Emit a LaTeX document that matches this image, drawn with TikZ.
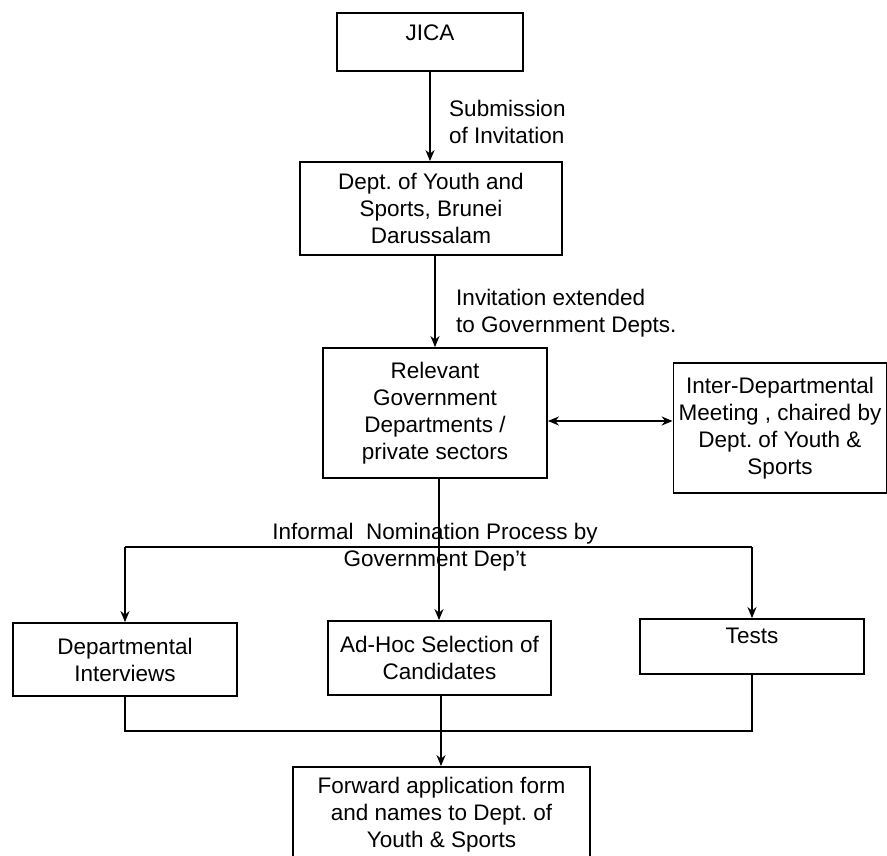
\documentclass[tikz,border=0pt]{standalone}
\usepackage{fontspec}
\setmainfont{Liberation Sans}
\frenchspacing
\usetikzlibrary{arrows.meta}

\begin{document}
\begin{tikzpicture}[x=1pt, y=-1pt, line width=1.8pt, >={Stealth[length=11pt, width=9pt]},
	every node/.append style={font=\fontsize{22.5}{27}\selectfont},
	box/.style={draw, align=center, inner sep=2pt},
	note/.style={align=left, anchor=west}]
\useasboundingbox (0,0) rectangle (887,856);
\node[box, minimum width=186pt, minimum height=58pt, text depth=18pt] (jica) at (430,42) {JICA};
\node[box, minimum width=262pt, minimum height=93pt] (dys) at (431,208.5) {Dept. of Youth and\\Sports, Brunei\\Darussalam};
\node[box, minimum width=224pt, minimum height=130pt] (rel) at (435,413) {Relevant\\Government\\Departments /\\private sectors};
\node[box, minimum width=213pt, minimum height=130pt, inner xsep=0pt] (inter) at (780,428) {Inter-Departmental\\Meeting , chaired by\\Dept. of Youth \&\\Sports};
\node[box, minimum width=224pt, minimum height=73pt] (dint) at (125,659.5) {Departmental\\Interviews};
\node[box, minimum width=223pt, minimum height=74pt] (adhoc) at (439.5,658) {Ad-Hoc Selection of\\Candidates};
\node[box, minimum width=224pt, minimum height=55pt, text depth=21pt] (tests) at (752,646.5) {Tests};
\node[box, minimum width=297pt, minimum height=96pt] (fwd) at (441.5,815) {Forward application form\\and names to Dept. of\\Youth \& Sports};
% labels on the arrows
\node[note] (sub) at (445,121.5) {Submission\\of Invitation};
\node[note] (ext) at (452,313.5) {Invitation extended\\to Government Depts.};
\coordinate (split) at (439,547);
\coordinate (merge) at (441,731);
\node[align=center] (nom) at (435,547) {Informal\ \ Nomination Process by\\Government Dep't};
% connectors
\draw[->] (jica.south) -- (jica.south |- dys.north);
\draw[->] (dys.south -| rel.north) -- (rel.north);
\draw[<->] ([yshift=-8pt]rel.east) -- ([yshift=-8pt]rel.east -| inter.west);
\draw[->] (rel.south -| split) -- (split |- adhoc.north);
\draw (split -| dint.north) -- (split -| tests.north);
\draw[->] (split -| dint.north) -- (dint.north);
\draw[->] (split -| tests.north) -- (tests.north);
\draw (dint.south) -- (merge -| dint.south) -- (merge -| tests.south) -- (tests.south);
\draw[->] (adhoc.south -| merge) -- (fwd.north -| merge);
\end{tikzpicture}
\end{document}
